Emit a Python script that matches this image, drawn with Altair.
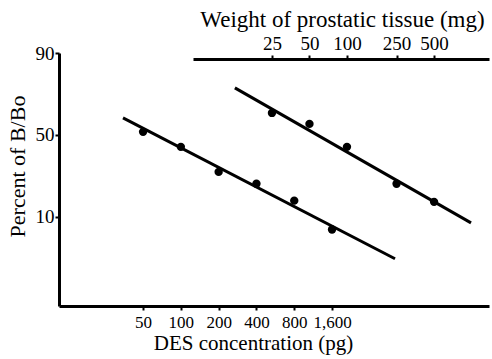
import math
import altair as alt
import pandas as pd

# --- data ---
des_pg = [50, 100, 200, 400, 800, 1600]
des_pct = [52.0, 42.0, 27.0, 21.2, 14.6, 7.3]
tissue_mg = [25, 50, 100, 250, 500]
tissue_pct = [64.3, 57.3, 42.0, 21.2, 14.2]
# fitted straight lines (end points)
des_fit_pg = [34.6, 5080]
des_fit_pct = [61.2, 3.47]
tissue_fit_mg = [12.6, 990]
tissue_fit_pct = [77.9, 8.6]
# axis ticks
y_ticks_pct = [10, 50, 90]
des_ticks = [50, 100, 200, 400, 800, 1600]
tissue_ticks = [25, 50, 100, 250, 500]

def logit(p):
    return math.log(p / (100 - p))

FONT = "Liberation Serif"
LOGIT = "log(datum.pct/(100-datum.pct))"

y_enc = alt.Y(
    "lg:Q",
    scale=alt.Scale(domain=[logit(1), logit(90)], nice=False, zero=False),
    axis=alt.Axis(
        values=[logit(p) for p in y_ticks_pct],
        labelExpr="format(100/(1+exp(-datum.value)), '.0f')",
        title="Percent of B/Bo",
        titleX=-42, titleY=113, titleAlign="center", titleBaseline="middle",
        titleFontSize=22, labelFontSize=19,
        tickSize=4, labelPadding=1, grid=False,
    ),
)

des_scale = alt.Scale(type="log", domain=[10.7, 28470], nice=False)
tis_scale = alt.Scale(type="log", domain=[5.81, 1380], nice=False, range=[134, 430])

des_pts = pd.DataFrame({"x": des_pg, "pct": des_pct})
des_fit = pd.DataFrame({"x": des_fit_pg, "pct": des_fit_pct})
tis_pts = pd.DataFrame({"x": tissue_mg, "pct": tissue_pct})
tis_fit = pd.DataFrame({"x": tissue_fit_mg, "pct": tissue_fit_pct})

des_axis = alt.Axis(
    values=des_ticks, format=",d", title="DES concentration (pg)",
    titleX=194, titleFontSize=21, labelFontSize=17,
    tickSize=4, labelPadding=4, titlePadding=2, grid=False,
)
tis_axis = alt.Axis(
    orient="top", values=tissue_ticks, format="d",
    title="Weight of prostatic tissue (mg)",
    titleX=283, titleFontSize=23, labelFontSize=19,
    tickSize=4, labelPadding=2, titlePadding=3, offset=-6, grid=False,
)

des_line = alt.Chart(des_fit).transform_calculate(lg=LOGIT).mark_line(
    color="black", strokeWidth=3
).encode(x=alt.X("x:Q", scale=des_scale, axis=des_axis), y=y_enc)
des_dot = alt.Chart(des_pts).transform_calculate(lg=LOGIT).mark_circle(
    color="black", size=70, opacity=1
).encode(x=alt.X("x:Q", scale=des_scale, axis=des_axis), y=y_enc)

tis_line = alt.Chart(tis_fit).transform_calculate(lg=LOGIT).mark_line(
    color="black", strokeWidth=3
).encode(x=alt.X("x:Q", scale=tis_scale, axis=tis_axis), y=y_enc)
tis_dot = alt.Chart(tis_pts).transform_calculate(lg=LOGIT).mark_circle(
    color="black", size=70, opacity=1
).encode(x=alt.X("x:Q", scale=tis_scale, axis=tis_axis), y=y_enc)

chart = alt.layer(
    alt.layer(des_line, des_dot),
    alt.layer(tis_line, tis_dot),
).resolve_scale(x="independent").properties(
    width=430, height=253,
    autosize=alt.AutoSizeParams(type="none"),
    padding={"left": 59, "top": 53, "right": 3, "bottom": 53},
    background="white",
).configure_view(stroke=None).configure_axis(
    labelFont=FONT, titleFont=FONT,
    titleFontWeight="normal", labelColor="black", titleColor="black",
    domainColor="black", tickColor="black", domainWidth=3, tickWidth=2,
)

chart.save("out.html", embed_options={"renderer": "svg", "actions": False})
